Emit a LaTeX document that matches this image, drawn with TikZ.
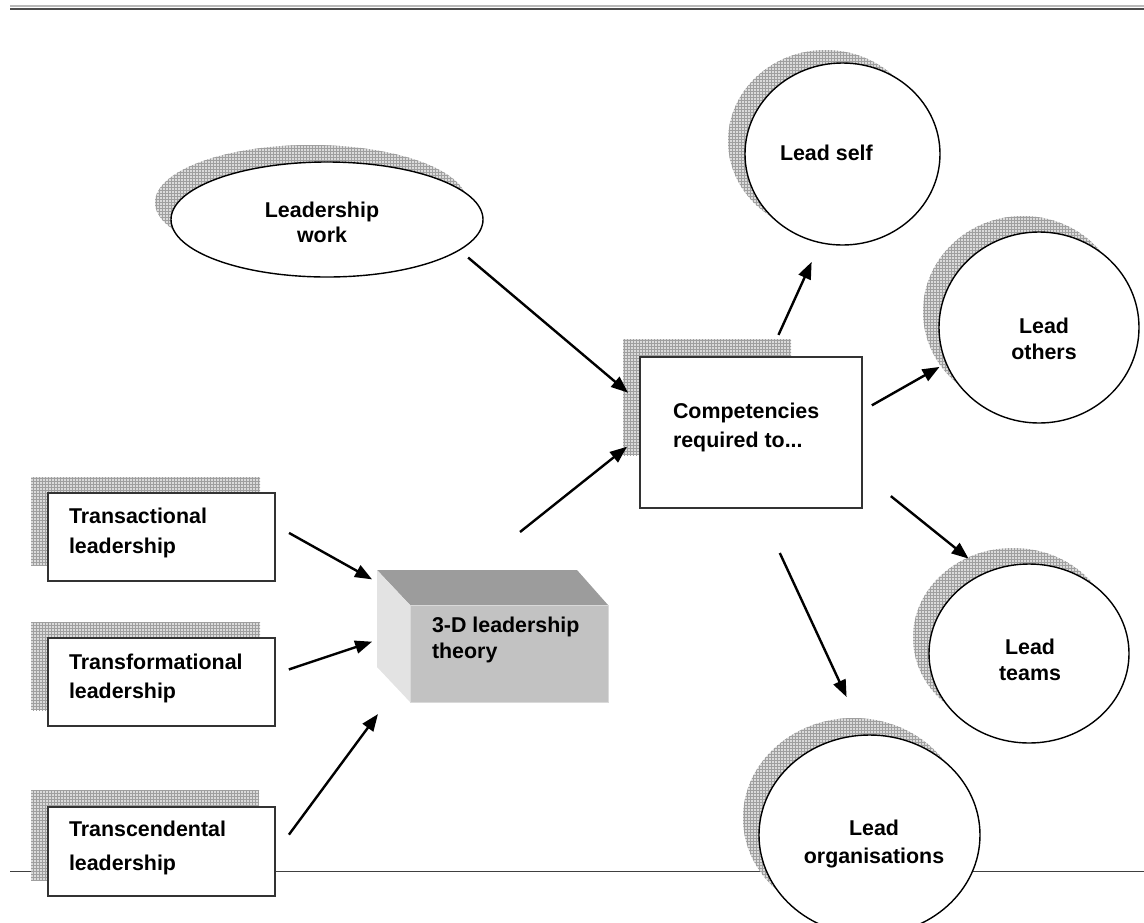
\documentclass[tikz,border=0pt]{standalone}
\usepackage{fontspec}
\setmainfont{Liberation Sans}
\usetikzlibrary{shapes.geometric,arrows.meta,patterns,calc}
\begin{document}
\begin{tikzpicture}[x=1pt,y=-1pt,
  shadowfill/.style={fill=gray!28, postaction={pattern=grid, pattern color=gray!75}},
  box/.style={draw=black!80, line width=1.4pt, fill=white, rectangle, inner sep=0pt, outer sep=0pt},
  ell/.style={draw=black, line width=1.4pt, fill=white, ellipse, inner sep=0pt, outer sep=0pt},
  lbl/.style={font=\bfseries\fontsize{21.4}{27}\selectfont, inner sep=0pt, outer sep=0pt},
  arr/.style={line width=2.4pt, -{Triangle[length=17pt,width=13pt]}},
]
\useasboundingbox (0,0) rectangle (1144,922);
\clip (0,0) rectangle (1144,922);

% page rules
\draw[gray!55, line width=2.2pt] (10,6) -- (1144,6);
\draw[black!70, line width=2pt] (10,8.5) -- (1144,8.5);
\draw[black!75, line width=1.5pt] (10,871.5) -- (1144,871.5);

% shadows
\fill[shadowfill] (311,202.5) ellipse [x radius=156, y radius=57.5];
\fill[shadowfill] (825.5,141) ellipse [x radius=97.5, y radius=91];
\fill[shadowfill] (1023,311.5) ellipse [x radius=100, y radius=95.5];
\fill[shadowfill] (1013,637.5) ellipse [x radius=100, y radius=89.5];
\fill[shadowfill] (853.5,818) ellipse [x radius=110.5, y radius=100];
\fill[shadowfill] (623,339) rectangle (791,455);
\fill[shadowfill] (31,477) rectangle (260,565);
\fill[shadowfill] (31,622) rectangle (260,710);
\fill[shadowfill] (31,790) rectangle (259,880);

% shapes
\node[ell, minimum width=312pt, minimum height=115pt] (lw) at (327,219.5) {};
\node[ell, minimum width=195pt, minimum height=182pt] (ls) at (842.5,154) {};
\node[ell, minimum width=200pt, minimum height=191pt] (lo) at (1039,327.5) {};
\node[ell, minimum width=200pt, minimum height=179pt] (lt) at (1029,653.5) {};
\node[ell, minimum width=221pt, minimum height=200pt] (lg) at (869.5,835) {};
\node[box, minimum width=222pt, minimum height=151pt] (comp) at (751,432.5) {};
\node[box, minimum width=227pt, minimum height=88pt] (ta) at (161.5,537) {};
\node[box, minimum width=227pt, minimum height=88pt] (tf) at (161.5,682) {};
\node[box, minimum width=227pt, minimum height=89pt] (tc) at (161.5,851.5) {};

% 3-D block
\node[rectangle, inner sep=0pt, outer sep=0pt, minimum width=231pt, minimum height=132pt] (td) at (492.5,636) {};
\coordinate (bl) at (td.north west);
\coordinate (br) at ($(td.north east)+(-31,0)$);
\coordinate (ftl) at ($(td.north west)+(33,35)$);
\coordinate (ftr) at ($(td.north east)+(0,35)$);
\coordinate (fbr) at (td.south east);
\coordinate (fbl) at ($(td.south west)+(33,0)$);
\coordinate (lbb) at ($(td.south west)+(0,-35)$);
\fill[gray!78] (bl) -- (br) -- (ftr) -- (ftl) -- cycle;
\fill[gray!22] (bl) -- (ftl) -- (fbl) -- (lbb) -- cycle;
\filldraw[fill=gray!48, draw=gray!30, line width=0.8pt] (ftl) rectangle (fbr);

% arrows
\draw[arr, shorten <=11.7pt, shorten >=15.6pt] (lw.-13.6) -- (comp.165.1);
\draw[arr, shorten <=61pt, shorten >=16.6pt] (td.107.1) -- (comp.182.2);
\draw[arr, shorten <=16.1pt, shorten >=5.7pt] (ta.6) -- (td.155.3);
\draw[arr, shorten <=14.6pt, shorten >=5.2pt] (tf.4.9) -- (td.182.7);
\draw[arr, shorten <=23.4pt, shorten >=15pt] (tc.-1.7) -- (td.212.5);
\draw[arr, shorten <=24.3pt, shorten >=21.2pt] (comp.77.5) -- (ls.256.7);
\draw[arr, shorten <=11.3pt, shorten >=7.7pt] (comp.11.8) -- (lo.201.8);
\draw[arr, shorten <=37pt, shorten >=22.4pt] (comp.-20.9) -- (lt.118.3);
\draw[arr, shorten <=49.6pt, shorten >=42pt] (comp.-84.6) -- (lg.93.3);

% texts
\node[lbl, align=center, anchor=north, font=\bfseries\fontsize{21.4}{24.5}\selectfont] (lw-t) at (322,202) {Leadership\\work};
\node[lbl, anchor=north west] (ls-t) at (780,145) {Lead self};
\node[lbl, align=center, anchor=north, font=\bfseries\fontsize{21.4}{26}\selectfont] (lo-t) at (1044,318) {Lead\\others};
\node[lbl, align=center, anchor=north, font=\bfseries\fontsize{21.4}{26}\selectfont] (lt-t) at (1030,639) {Lead\\teams};
\node[lbl, align=center, anchor=north, font=\bfseries\fontsize{21.4}{28}\selectfont] (lg-t) at (874,820) {Lead\\organisations};
\node[lbl, align=left, anchor=north west, font=\bfseries\fontsize{21.4}{29}\selectfont] (comp-t) at (673,403) {Competencies\\required to...};
\node[lbl, align=left, anchor=north west, font=\bfseries\fontsize{21.4}{30}\selectfont] (ta-t) at (69,508) {Transactional\\leadership};
\node[lbl, align=left, anchor=north west, font=\bfseries\fontsize{21.4}{29}\selectfont] (tf-t) at (69,654) {Transformational\\leadership};
\node[lbl, align=left, anchor=north west, font=\bfseries\fontsize{21.4}{34}\selectfont] (tc-t) at (69,821) {Transcendental\\leadership};
\node[lbl, align=left, anchor=north west, font=\bfseries\fontsize{21.4}{26}\selectfont] (td-t) at (432,617) {3-D leadership\\theory};
\end{tikzpicture}
\end{document}
